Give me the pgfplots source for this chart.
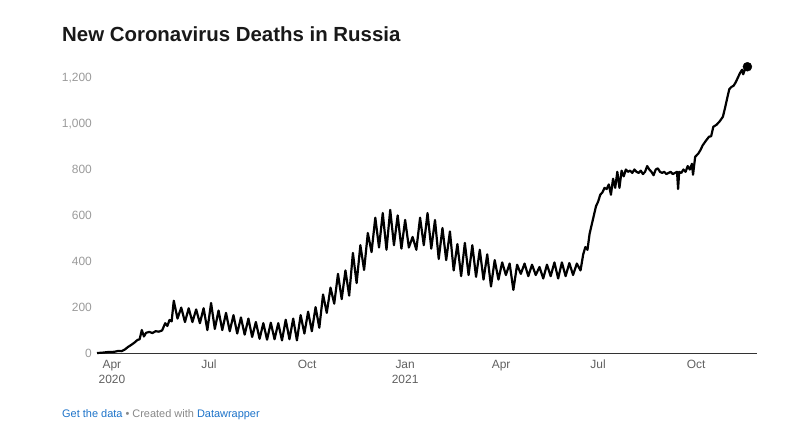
\documentclass[border=0pt]{standalone}
\usepackage{fontspec}
\setmainfont{Liberation Sans}
\usepackage{pgfplots}
\pgfplotsset{compat=1.18}
\definecolor{ylab}{HTML}{9A9A9A}
\definecolor{xlab}{HTML}{606060}
\definecolor{axisline}{HTML}{333333}
\definecolor{linkblue}{HTML}{1D73C9}
\definecolor{footgray}{HTML}{888888}

% days since 1 Apr 2020, daily deaths
\pgfplotstableread{
d v
-14 0
-10 1
-6 3
-2 5
0 4
3 6
6 9
9 8
12 15
15 26
18 35
21 45
24 57
26 60
28 100
30 72
32 88
35 92
38 87
41 95
44 93
47 98
50 130
52 118
54 144
56 138
58 228
61.5 150
65 198
68.5 135
72 195
75.5 135
79 190
82.5 130
86 195
89.5 100
93 218
96.5 105
100 185
103.5 100
107 175
110.5 95
114 165
117.5 85
121 155
124.5 80
128 150
131.5 70
135 135
138.5 62
142 130
145.5 58
149 132
152.5 60
156 130
159.5 55
163 145
166.5 60
170 150
173.5 55
177 165
180.5 85
184 180
187.5 95
191 200
194.5 110
198 255
201.5 175
205 285
208.5 215
212 345
215.5 235
219 360
222.5 250
226 436
229.5 305
233 470
236.5 362
240 523
243.5 440
247 590
250.5 460
254 610
257.5 450
261 624
264.5 470
268 600
271.5 455
275 580
278.5 460
282 506
285.5 450
289 590
292.5 470
296 610
299.5 455
303 580
306.5 410
310 545
313.5 405
317 530
320.5 360
324 475
327.5 335
331 480
334.5 340
338 470
341.5 332
345 450
348.5 320
352 430
355.5 290
359 405
362.5 320
366 395
369.5 340
373 390
376.5 275
380 385
383.5 345
387 390
390.5 335
394 385
397.5 340
401 375
404.5 325
408 385
411.5 335
415 395
418.5 325
422 395
425.5 335
429 392
432.5 340
436 390
439.5 360
442 430
444 462
446 450
448 520
450 560
452 600
454 640
456 660
458 690
460 700
462 720
464 715
466 735
468 690
470 760
472 720
474 790
476 720
478 795
480 770
482 800
484 790
486 795
488 785
490 800
492 790
494 785
496 795
498 780
500 790
502 815
504 800
506 790
508 775
510 800
512 805
514 790
516 785
518 790
520 780
522 785
524 790
526 780
528 785
530 790
531 715
532 790
534 785
536 800
538 790
540 815
542 800
544 825
545 777
547 855
550 870
552 885
554 905
557 925
560 943
562 945
564 986
567 995
570 1010
573 1030
575 1068
577 1110
579 1150
581 1160
583 1165
585 1180
587 1200
589 1220
591 1235
592 1215
594 1240
596 1248
}\deaths

\begin{document}
\begin{tikzpicture}
\useasboundingbox (0,0) rectangle (800bp,434bp);
\node[anchor=base west, inner sep=0pt, font=\fontsize{20.5}{24}\selectfont\bfseries, text=black!90]
  at (62bp,392bp) {New Coronavirus Deaths in Russia};
\begin{axis}[
  at={(97bp,81bp)}, anchor=south west,
  scale only axis, width=660bp, height=289bp,
  xmin=-14, xmax=605, ymin=0, ymax=1260,
  axis x line*=bottom, axis y line*=left,
  x axis line style={draw=axisline, line width=0.8bp, -},
  y axis line style={draw=none},
  xtick={0,91,183,275,365,456,548},
  xticklabels={Apr\\2020,Jul,Oct,Jan\\2021,Apr,Jul,Oct},
  xtick style={draw=none},
  x tick label style={align=center, text=xlab, font=\fontsize{12}{15}\selectfont,
    anchor=north, inner sep=0pt, yshift=-7bp},
  ytick={0,200,400,600,800,1000,1200},
  yticklabels={0,200,400,600,800,{1,000},{1,200}},
  ytick style={draw=none},
  y tick label style={text=ylab, font=\fontsize{12}{14}\selectfont,
    anchor=east, inner sep=0pt, xshift=-5bp},
  clip=false,
]
\addplot[black, line width=2.2bp, line join=round, mark=none] table[x=d, y=v] {\deaths};
\addplot[black, only marks, mark=*, mark size=4.5bp] coordinates {(596,1248)};
\end{axis}
\node[anchor=base west, inner sep=0pt, font=\fontsize{11}{13}\selectfont]
  at (62bp,17bp) {\textcolor{linkblue}{Get the data}\ \textcolor{footgray}{•\ Created with}\ \textcolor{linkblue}{Datawrapper}};
\end{tikzpicture}
\end{document}
